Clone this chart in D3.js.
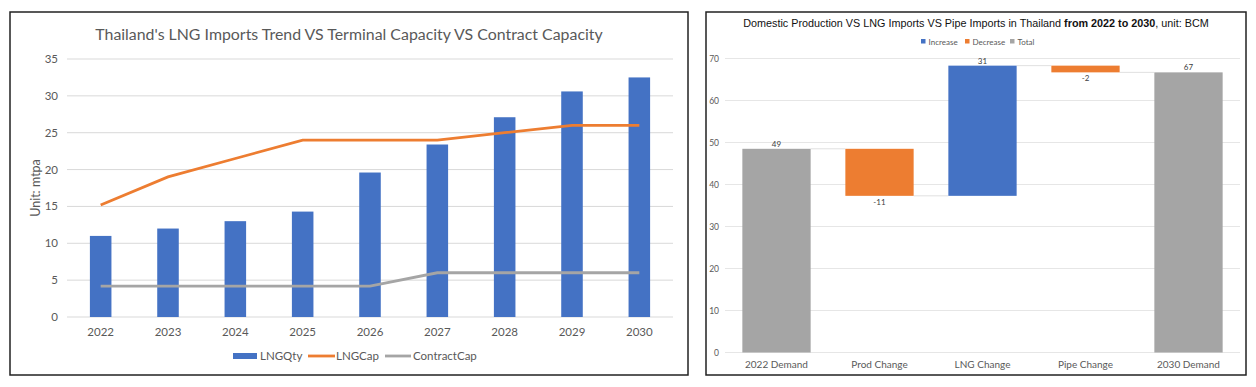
<!DOCTYPE html>
<html>
<head>
<meta charset="utf-8">
<script src="https://cdn.jsdelivr.net/npm/d3@7"></script>
<style>
  body { margin: 0; background: #fff; }
  svg { display: block; }
</style>
</head>
<body>
<svg id="chart" width="1256" height="387"></svg>
<script>
// left chart data
var years = ["2022", "2023", "2024", "2025", "2026", "2027", "2028", "2029", "2030"];
var lngQty = [11.0, 12.0, 13.0, 14.3, 19.6, 23.4, 27.1, 30.6, 32.5];
var lngCap = [15.2, 19.0, 21.5, 24.0, 24.0, 24.0, 25.0, 26.0, 26.0];
var contractCap = [4.2, 4.2, 4.2, 4.2, 4.2, 6.0, 6.0, 6.0, 6.0];
var leftTicks = [0, 5, 10, 15, 20, 25, 30, 35];

// right (waterfall) data
var wfCats = ["2022 Demand", "Prod Change", "LNG Change", "Pipe Change", "2030 Demand"];
var wfValues = [48.5, -11.2, 31.0, -1.6, null]; // null = total
var wfTicks = [0, 10, 20, 30, 40, 50, 60, 70];

var svg = d3.select("#chart");
var grey = "#595959";

// ---------- left panel ----------
svg.append("rect").attr("x", 10).attr("y", 12).attr("width", 678).attr("height", 363)
  .attr("fill", "#fff").attr("stroke", "#222").attr("stroke-width", 1.5);

svg.append("text").attr("x", 349).attr("y", 40).attr("text-anchor", "middle")
  .attr("font-family", "Lato, 'Open Sans', sans-serif").attr("font-size", 15.9)
  .attr("fill", grey).text("Thailand's LNG Imports Trend VS Terminal Capacity VS Contract Capacity");

var x = d3.scaleBand().domain(years).range([67, 673]).paddingInner(0.68).paddingOuter(0.34);
var y = d3.scaleLinear().domain([0, 35]).range([317, 59]);

var left = svg.append("g").attr("font-family", "Lato, 'Open Sans', sans-serif");

left.selectAll(".grid").data(leftTicks).enter().append("line")
  .attr("x1", 67).attr("x2", 673)
  .attr("y1", function(d) { return y(d); }).attr("y2", function(d) { return y(d); })
  .attr("stroke", "#d9d9d9").attr("stroke-width", 1);

left.selectAll(".ytick").data(leftTicks).enter().append("text")
  .attr("x", 58).attr("y", function(d) { return y(d) + 4; })
  .attr("text-anchor", "end").attr("font-size", 11.5).attr("fill", grey)
  .text(function(d) { return d; });

left.append("text").attr("transform", "translate(40,188) rotate(-90)")
  .attr("text-anchor", "middle").attr("font-size", 12.5).attr("fill", grey).text("Unit: mtpa");

left.selectAll(".bar").data(lngQty).enter().append("rect")
  .attr("x", function(d, i) { return x(years[i]); })
  .attr("y", function(d) { return y(d); })
  .attr("width", x.bandwidth())
  .attr("height", function(d) { return y(0) - y(d); })
  .attr("fill", "#4472c4");

var line = d3.line()
  .x(function(d, i) { return x(years[i]) + x.bandwidth() / 2; })
  .y(function(d) { return y(d); });

left.append("path").datum(lngCap).attr("d", line)
  .attr("fill", "none").attr("stroke", "#ed7d31").attr("stroke-width", 2.8);
left.append("path").datum(contractCap).attr("d", line)
  .attr("fill", "none").attr("stroke", "#a5a5a5").attr("stroke-width", 2.8);

left.selectAll(".xtick").data(years).enter().append("text")
  .attr("x", function(d) { return x(d) + x.bandwidth() / 2; }).attr("y", 336)
  .attr("text-anchor", "middle").attr("font-size", 11.5).attr("fill", grey)
  .text(function(d) { return d; });

// legend
var lg = left.append("g");
lg.append("rect").attr("x", 233).attr("y", 353).attr("width", 24).attr("height", 6).attr("fill", "#4472c4");
lg.append("text").attr("x", 260).attr("y", 360).attr("font-size", 11.5).attr("fill", grey).text("LNGQty");
lg.append("line").attr("x1", 308).attr("x2", 335).attr("y1", 356).attr("y2", 356)
  .attr("stroke", "#ed7d31").attr("stroke-width", 2.8);
lg.append("text").attr("x", 336).attr("y", 360).attr("font-size", 11.5).attr("fill", grey).text("LNGCap");
lg.append("line").attr("x1", 385).attr("x2", 411).attr("y1", 356).attr("y2", 356)
  .attr("stroke", "#a5a5a5").attr("stroke-width", 2.8);
lg.append("text").attr("x", 413).attr("y", 360).attr("font-size", 11.5).attr("fill", grey).text("ContractCap");

// ---------- right panel (waterfall) ----------
svg.append("rect").attr("x", 706).attr("y", 12).attr("width", 540).attr("height", 363)
  .attr("fill", "#fff").attr("stroke", "#222").attr("stroke-width", 1.5);

var title = svg.append("text").attr("x", 976).attr("y", 27).attr("text-anchor", "middle")
  .attr("font-family", "'Liberation Sans', Arial, sans-serif").attr("font-size", 10.8).attr("fill", "#111");
title.append("tspan").text("Domestic Production VS LNG Imports VS Pipe Imports in Thailand ");
title.append("tspan").attr("font-weight", "bold").text("from 2022 to 2030");
title.append("tspan").text(", unit: BCM");

var colInc = "#4472c4", colDec = "#ed7d31", colTot = "#a5a5a5";
var legItems = [["Increase", colInc, 921], ["Decrease", colDec, 965], ["Total", colTot, 1010]];
var wl = svg.append("g").attr("font-family", "Lato, 'Open Sans', sans-serif");
legItems.forEach(function(it) {
  wl.append("rect").attr("x", it[2]).attr("y", 39).attr("width", 4.5).attr("height", 4.5).attr("fill", it[1]);
  wl.append("text").attr("x", it[2] + 7.5).attr("y", 44.5).attr("font-size", 8).attr("fill", grey).text(it[0]);
});

var xw = d3.scaleBand().domain(wfCats).range([725, 1240]).paddingInner(0.337).paddingOuter(0.1685);
var yw = d3.scaleLinear().domain([0, 70]).range([352.5, 58.5]);

// build waterfall steps
var running = 0;
var steps = wfCats.map(function(c, i) {
  var v = wfValues[i], s;
  if (v === null) {
    s = { cat: c, y0: 0, y1: running, kind: "total", label: Math.round(running) };
  } else if (i === 0) {
    s = { cat: c, y0: 0, y1: v, kind: "total", label: Math.round(v) };
    running = v;
  } else {
    s = { cat: c, y0: running, y1: running + v, kind: v >= 0 ? "inc" : "dec", label: Math.round(v) };
    running += v;
  }
  return s;
});

var right = svg.append("g").attr("font-family", "Lato, 'Open Sans', sans-serif");

right.selectAll(".grid").data(wfTicks).enter().append("line")
  .attr("x1", 725).attr("x2", 1240)
  .attr("y1", function(d) { return yw(d); }).attr("y2", function(d) { return yw(d); })
  .attr("stroke", "#e6e6e6").attr("stroke-width", 1);

right.selectAll(".ytick").data(wfTicks).enter().append("text")
  .attr("x", 719).attr("y", function(d) { return yw(d) + 3; })
  .attr("text-anchor", "end").attr("font-size", 8.5).attr("fill", grey)
  .text(function(d) { return d; });

// connectors
steps.forEach(function(s, i) {
  if (i === steps.length - 1) return;
  right.append("line")
    .attr("x1", xw(s.cat) + xw.bandwidth()).attr("x2", xw(steps[i + 1].cat))
    .attr("y1", yw(s.y1)).attr("y2", yw(s.y1))
    .attr("stroke", "#e0e0e0").attr("stroke-width", 1);
});

var colorOf = { inc: colInc, dec: colDec, total: colTot };
right.selectAll(".wbar").data(steps).enter().append("rect")
  .attr("x", function(d) { return xw(d.cat); })
  .attr("y", function(d) { return yw(Math.max(d.y0, d.y1)); })
  .attr("width", xw.bandwidth())
  .attr("height", function(d) { return Math.abs(yw(d.y0) - yw(d.y1)); })
  .attr("fill", function(d) { return colorOf[d.kind]; });

right.selectAll(".wlab").data(steps).enter().append("text")
  .attr("x", function(d) { return xw(d.cat) + xw.bandwidth() / 2; })
  .attr("y", function(d) { return d.kind === "dec" ? yw(d.y1) + 9 : yw(d.y1) - 2; })
  .attr("text-anchor", "middle").attr("font-size", 8).attr("fill", "#404040")
  .text(function(d) { return d.label; });

right.selectAll(".xtick").data(wfCats).enter().append("text")
  .attr("x", function(d) { return xw(d) + xw.bandwidth() / 2; }).attr("y", 368)
  .attr("text-anchor", "middle").attr("font-size", 10).attr("fill", grey)
  .text(function(d) { return d; });
</script>
</body>
</html>
